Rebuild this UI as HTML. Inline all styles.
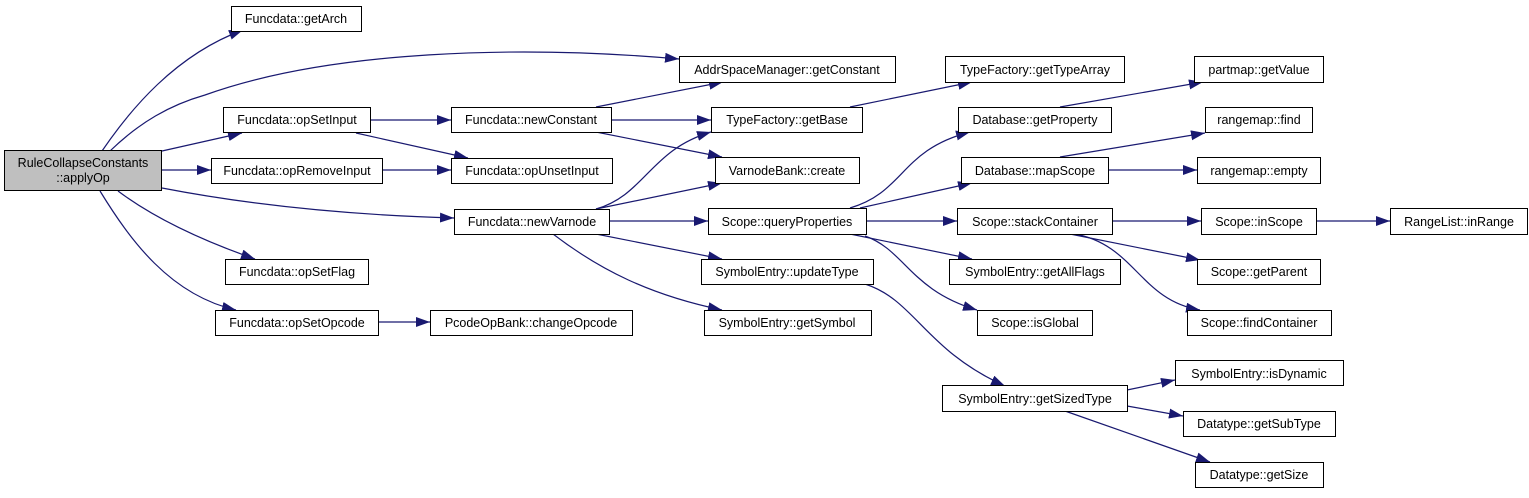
<!DOCTYPE html>
<html><head><meta charset="utf-8"><style>
html,body{margin:0;padding:0;background:#fff;}
svg text{font-family:"Liberation Sans",Arial,sans-serif;font-size:12.5px;fill:#000;text-anchor:middle;}
</style></head><body>
<svg width="1529" height="493" viewBox="0 0 1529 493" xmlns="http://www.w3.org/2000/svg">
<defs>
<marker id="a" markerUnits="userSpaceOnUse" markerWidth="16" markerHeight="12" refX="14" refY="5" orient="auto">
<polygon points="0,0 14,5 0,10" fill="#191970"/>
</marker>
</defs>
<g fill="none" stroke="#191970" stroke-width="1.2" marker-end="url(#a)">
<path d="M102,151 C130,110 175,55 243,30"/>
<path d="M110,151 C140,122 170,105 205,95 C330,50 520,45 679,59"/>
<path d="M162,151 L242,133"/>
<path d="M162,170 L211,170"/>
<path d="M162,188 C250,205 350,215 454,218"/>
<path d="M118,191 C150,215 195,238 255,259"/>
<path d="M100,191 C130,240 170,295 236,310"/>
<path d="M370,120 L451,120"/>
<path d="M356,133 L468,158"/>
<path d="M382,170 L451,170"/>
<path d="M378,322 L430,322"/>
<path d="M596,107 L723,82"/>
<path d="M611,120 L711,120"/>
<path d="M596,132 L722,157"/>
<path d="M596,209 C645,195 650,150 711,132"/>
<path d="M596,209 L722,183"/>
<path d="M609,221 L708,221"/>
<path d="M596,234 L722,259"/>
<path d="M553,234 C600,270 650,295 722,310"/>
<path d="M850,107 L972,82"/>
<path d="M850,208 C905,192 900,150 970,132"/>
<path d="M860,208 L972,183"/>
<path d="M866,221 L957,221"/>
<path d="M850,234 L972,259"/>
<path d="M865,236 C905,250 910,290 977,310"/>
<path d="M865,284 C915,300 925,350 1005,386"/>
<path d="M1060,107 L1203,82"/>
<path d="M1060,157 L1205,133"/>
<path d="M1108,170 L1197,170"/>
<path d="M1112,221 L1201,221"/>
<path d="M1316,221 L1390,221"/>
<path d="M1070,234 L1200,260"/>
<path d="M1075,234 C1135,245 1140,300 1200,310"/>
<path d="M1127,390 L1175,380"/>
<path d="M1127,406 L1183,416"/>
<path d="M1065,411 L1210,462"/>
</g>
<g stroke="#000" stroke-width="1" fill="#fff">
<rect x="4.5" y="150.5" width="157" height="40" fill="#bfbfbf"/>
<rect x="231.5" y="6.5" width="130" height="25"/>
<rect x="223.5" y="107.5" width="147" height="25"/>
<rect x="211.5" y="158.5" width="171" height="25"/>
<rect x="225.5" y="259.5" width="143" height="25"/>
<rect x="215.5" y="310.5" width="163" height="25"/>
<rect x="451.5" y="107.5" width="160" height="25"/>
<rect x="451.5" y="158.5" width="161" height="25"/>
<rect x="454.5" y="209.5" width="155" height="25"/>
<rect x="430.5" y="310.5" width="202" height="25"/>
<rect x="679.5" y="56.5" width="216" height="26"/>
<rect x="711.5" y="107.5" width="151" height="25"/>
<rect x="715.5" y="157.5" width="144" height="26"/>
<rect x="708.5" y="208.5" width="158" height="26"/>
<rect x="701.5" y="259.5" width="172" height="25"/>
<rect x="704.5" y="310.5" width="167" height="25"/>
<rect x="945.5" y="56.5" width="179" height="26"/>
<rect x="958.5" y="107.5" width="153" height="25"/>
<rect x="961.5" y="157.5" width="147" height="26"/>
<rect x="957.5" y="208.5" width="155" height="26"/>
<rect x="949.5" y="259.5" width="171" height="25"/>
<rect x="977.5" y="310.5" width="115" height="25"/>
<rect x="942.5" y="385.5" width="185" height="26"/>
<rect x="1194.5" y="56.5" width="129" height="26"/>
<rect x="1205.5" y="107.5" width="107" height="25"/>
<rect x="1197.5" y="157.5" width="123" height="26"/>
<rect x="1201.5" y="208.5" width="115" height="26"/>
<rect x="1390.5" y="208.5" width="137" height="26"/>
<rect x="1197.5" y="259.5" width="123" height="25"/>
<rect x="1187.5" y="310.5" width="144" height="25"/>
<rect x="1175.5" y="360.5" width="168" height="25"/>
<rect x="1183.5" y="411.5" width="152" height="25"/>
<rect x="1195.5" y="462.5" width="128" height="25"/>
</g>
<g>
<text x="83" y="167">RuleCollapseConstants</text>
<text x="83" y="182">::applyOp</text>
<text x="296" y="23">Funcdata::getArch</text>
<text x="297" y="124">Funcdata::opSetInput</text>
<text x="297" y="175">Funcdata::opRemoveInput</text>
<text x="297" y="276">Funcdata::opSetFlag</text>
<text x="297" y="327">Funcdata::opSetOpcode</text>
<text x="531" y="124">Funcdata::newConstant</text>
<text x="532" y="175">Funcdata::opUnsetInput</text>
<text x="532" y="226">Funcdata::newVarnode</text>
<text x="531" y="327">PcodeOpBank::changeOpcode</text>
<text x="787" y="74">AddrSpaceManager::getConstant</text>
<text x="787" y="124">TypeFactory::getBase</text>
<text x="787" y="175">VarnodeBank::create</text>
<text x="787" y="226">Scope::queryProperties</text>
<text x="787" y="276">SymbolEntry::updateType</text>
<text x="787" y="327">SymbolEntry::getSymbol</text>
<text x="1035" y="74">TypeFactory::getTypeArray</text>
<text x="1035" y="124">Database::getProperty</text>
<text x="1035" y="175">Database::mapScope</text>
<text x="1035" y="226">Scope::stackContainer</text>
<text x="1035" y="276">SymbolEntry::getAllFlags</text>
<text x="1035" y="327">Scope::isGlobal</text>
<text x="1035" y="403">SymbolEntry::getSizedType</text>
<text x="1259" y="74">partmap::getValue</text>
<text x="1259" y="124">rangemap::find</text>
<text x="1259" y="175">rangemap::empty</text>
<text x="1259" y="226">Scope::inScope</text>
<text x="1459" y="226">RangeList::inRange</text>
<text x="1259" y="276">Scope::getParent</text>
<text x="1259" y="327">Scope::findContainer</text>
<text x="1259" y="378">SymbolEntry::isDynamic</text>
<text x="1259" y="428">Datatype::getSubType</text>
<text x="1259" y="479">Datatype::getSize</text>
</g>
</svg>
</body></html>
